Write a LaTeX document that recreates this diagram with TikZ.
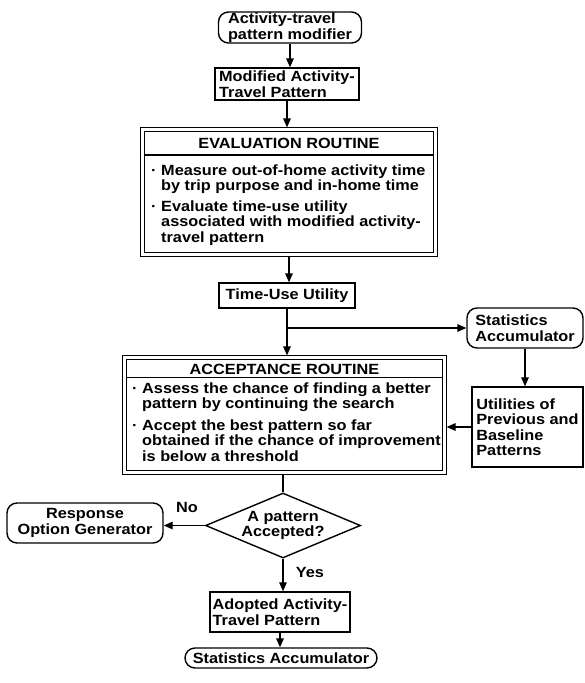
\documentclass[tikz,border=0pt]{standalone}
\usepackage{fontspec}
\newfontfamily\diafont{Liberation Sans}[FakeStretch=1.1]
\usetikzlibrary{shapes.geometric,arrows.meta,calc}
\newcommand{\bul}{\makebox[11pt][l]{\hspace{1pt}·}}
\newcommand{\ind}{\hspace*{11pt}}
\begin{document}
\begin{tikzpicture}[x=1pt,y=-1pt,
  every node/.style={font=\fontsize{14.8}{15.5}\diafont\bfseries, inner sep=0pt},
  box/.style={draw, line width=1.4pt, rectangle},
  rbox/.style={draw, line width=1.4pt, rounded corners=10pt},
  dbox/.style={draw, line width=1.1pt, double, double distance=2.4pt},
  arr/.style={line width=1.4pt, -{Triangle[length=9pt,width=7.5pt]}},
  ln/.style={line width=1.4pt}]
\fill[white] (0,0) rectangle (585,683);
\useasboundingbox (0,0) rectangle (585,683);

\node[rbox, minimum width=143pt, minimum height=31pt, align=left] (mod) at (290,27.5) {Activity-travel\\pattern modifier};
\node[box, minimum width=144pt, minimum height=32pt, align=left] (modif) at (287,84) {Modified Activity-\\Travel Pattern};

\node[dbox, minimum width=293pt, minimum height=125pt] (eval) at (289,192) {};
\draw[ln] ($(eval.north west)+(1.7,26)$) -- ($(eval.north east)+(-1.7,26)$);
\node[anchor=base] (evtitle) at (289,148) {EVALUATION ROUTINE};
\node[anchor=base west] (evtext) at (150,175) {\begin{tabular}[t]{@{}l@{}}
\bul Measure out-of-home activity time\\
\ind by trip purpose and in-home time\\[5pt]
\bul Evaluate time-use utility\\
\ind associated with modified activity-\\
\ind travel pattern
\end{tabular}};

\node[box, minimum width=136pt, minimum height=25pt] (time) at (287,295.5) {Time-Use Utility};
\coordinate (br) at (287,328);
\node[rbox, minimum width=116pt, minimum height=40pt, align=left] (stat) at (525,328) {Statistics\\Accumulator};
\node[box, minimum width=111pt, minimum height=80pt, align=left] (util) at (527.5,427) {Utilities of\\Previous and\\Baseline\\Patterns};

\node[dbox, minimum width=320pt, minimum height=115pt] (acc) at (284.5,415) {};
\draw[ln] ($(acc.north west)+(1.7,20.5)$) -- ($(acc.north east)+(-1.7,20.5)$);
\node[anchor=base] (acctitle) at (284.5,374) {ACCEPTANCE ROUTINE};
\node[anchor=base west] (acctext) at (131,393) {\begin{tabular}[t]{@{}l@{}}
\bul Assess the chance of finding a better\\
\ind pattern by continuing the search\\[6pt]
\bul Accept the best pattern so far\\
\ind obtained if the chance of improvement\\
\ind is below a threshold
\end{tabular}};

\node[diamond, draw, line width=1.4pt, aspect=2.4, minimum width=155pt, minimum height=65pt, align=center] (dia) at (283,525.5) {A pattern\\Accepted?};
\node[rbox, minimum width=156pt, minimum height=40pt, align=center] (resp) at (85,523) {Response\\Option Generator};
\node (no) at (187,507) {No};
\node (yes) at (310,572) {Yes};
\node[box, minimum width=140pt, minimum height=40pt, align=left] (adopt) at (280,612) {Adopted Activity-\\Travel Pattern};
\node[rbox, minimum width=192pt, minimum height=20pt] (stat2) at (281,658) {Statistics Accumulator};

\draw[arr] (mod.south) -- (mod.south |- modif.north);
\draw[arr, shorten >=1.5pt] (modif.south) -- (modif.south |- eval.north);
\draw[arr, shorten <=2pt] (eval.south) -- (eval.south |- time.north);
\draw[ln] (time.south) -- (br);
\draw[arr, shorten >=1.5pt] (br) -- (br |- acc.north);
\draw[arr] (br) -- (stat.west);
\draw[arr] (stat.south) -- (stat.south |- util.north);
\draw[arr, shorten >=1.5pt] (util.west) -- (util.west -| acc.east);
\draw[ln, shorten <=2pt] (dia.north |- acc.south) -- (dia.north);
\draw[arr] (dia.west) -- (dia.west -| resp.east);
\draw[arr] (dia.south) -- (dia.south |- adopt.north);
\draw[arr] (adopt.south) -- (adopt.south |- stat2.north);
\end{tikzpicture}
\end{document}
